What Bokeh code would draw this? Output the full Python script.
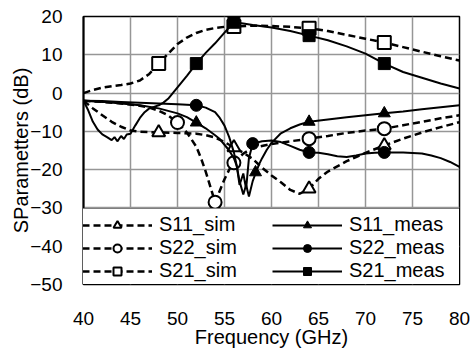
from bokeh.plotting import figure
from bokeh.models import Range1d, Legend, LegendItem, FixedTicker
from bokeh.embed import file_html
from bokeh.resources import INLINE

# ---------------- data ----------------
x_ticks = [40, 45, 50, 55, 60, 65, 70, 75, 80]
y_ticks = [-50, -40, -30, -20, -10, 0, 10, 20]
x_title = "Frequency (GHz)"
y_title = "SParametters (dB)"

s21_sim_f = [40, 41, 42, 43, 44, 45, 46, 47, 48, 49, 50, 51, 52, 53, 54, 55, 56, 58, 60,
             62, 64, 66, 68, 70, 72, 74, 76, 78, 80]
s21_sim_db = [0, 0.8, 1.4, 1.8, 2.1, 2.5, 3.3, 5.0, 7.7, 10.3, 12.8, 14.5, 15.7, 16.5, 17.0,
              17.3, 17.4, 17.6, 17.5, 17.3, 16.9, 16.2, 15.2, 14.2, 13.2, 12.0, 10.8, 9.6, 8.5]
s21_sim_mf = [48, 56, 64, 72]
s21_sim_mdb = [7.7, 17.4, 16.9, 13.2]

s21_meas_f = [40, 40.5, 41, 41.5, 42, 42.5, 43, 43.3, 43.6, 44, 44.3, 44.6, 45, 45.5, 46,
              46.5, 47, 47.5, 48, 48.5, 49, 49.5, 50, 51, 52, 53, 54, 55, 56, 57, 58, 60,
              62, 64, 66, 68, 70, 72, 74, 76, 78, 80]
s21_meas_db = [-2, -4.5, -7.5, -9.5, -10.8, -11.5, -12.3, -11.5, -12.6, -11.2, -12, -10.8,
               -10.6, -8.5, -6.5, -5, -4, -3.6, -3.2, -2.5, -1.5, 0, 1.5, 4.5, 7.7, 10.5,
               13, 15.8, 18.5, 18.2, 17.8, 17.1, 16.2, 15.0, 13.8, 12.2, 10.3, 7.7, 5.5,
               4.0, 2.5, 1.2]
s21_meas_mf = [52, 56, 64, 72]
s21_meas_mdb = [7.7, 18.5, 15.0, 7.7]

s11_sim_f = [40, 41, 42, 43, 44, 45, 46, 48, 50, 52, 53, 54, 55, 56, 57, 58, 59, 60, 61,
             62, 63, 64, 65, 66, 68, 70, 72, 74, 76, 78, 80]
s11_sim_db = [-2, -4, -5.8, -7.5, -8.8, -9.8, -10.1, -10.3, -10.4, -10.6, -11, -11.6,
              -12.8, -14.2, -15.6, -17.2, -19.5, -21.5, -23.3, -25.3, -26.3, -25.0, -22.4,
              -20.5, -17.8, -15.6, -13.7, -11.9, -10.3, -8.9, -7.6]
s11_sim_mf = [48, 56, 64, 72]
s11_sim_mdb = [-10.3, -14.2, -25.0, -13.7]

s22_sim_f = [40, 42, 44, 46, 47, 48, 49, 50, 51, 52, 52.5, 53, 53.5, 54, 54.5, 55, 55.5,
             56, 57, 58, 60, 62, 64, 66, 68, 70, 72, 74, 76, 78, 80]
s22_sim_db = [-2, -2.3, -2.7, -3.3, -3.8, -4.6, -5.8, -7.7, -10.3, -14, -17, -20.5, -24.5,
              -28.5, -25.5, -22.5, -20, -18.2, -15.8, -14.3, -13.3, -12.6, -11.9, -11.2,
              -10.4, -9.8, -9.3, -8.4, -7.5, -6.6, -5.8]
s22_sim_mf = [50, 54, 56, 64, 72]
s22_sim_mdb = [-7.7, -28.5, -18.2, -11.9, -9.3]

s11_meas_f = [40, 42, 44, 46, 48, 50, 51, 52, 53, 54, 54.5, 55, 55.5, 56, 56.3, 56.6, 57,
              57.3, 57.6, 58, 58.3, 58.7, 59, 59.5, 60, 61, 62, 63, 64, 66, 68, 70, 72, 74,
              76, 78, 80]
s11_meas_db = [-2, -2.3, -2.7, -3.2, -4.0, -5.3, -6.3, -7.7, -9.2, -11, -12, -13.5, -15,
               -17, -19, -23, -26.5, -24, -27, -23, -21, -18.5, -17, -14.8, -13, -10.5,
               -9.2, -8.2, -7.5, -6.9, -6.3, -5.8, -5.3, -4.8, -4.2, -3.7, -3.2]
s11_meas_mf = [52, 58.3, 64, 72]
s11_meas_mdb = [-7.7, -20.7, -7.5, -5.3]

s22_meas_f = [40, 42, 44, 46, 48, 50, 52, 53, 54, 54.5, 55, 55.5, 56, 56.3, 56.6, 57, 57.3,
              57.6, 58, 59, 60, 61, 62, 63, 64, 65, 66, 67, 68, 69, 70, 71, 72, 74, 76, 77,
              78, 79, 80]
s22_meas_db = [-2, -2.1, -2.3, -2.5, -2.7, -2.9, -3.2, -3.8, -5, -6.5, -8.5, -11.5, -15.5,
               -19, -24, -21, -25, -17, -13.2, -12.6, -12.4, -12.8, -13.8, -14.8, -15.5,
               -15.6, -16, -16.5, -16.7, -16.3, -15.8, -15.6, -15.5, -15.5, -15.8, -16.3,
               -17, -18, -19.3]
s22_meas_mf = [52, 58, 64, 72]
s22_meas_mdb = [-3.2, -13.2, -15.5, -15.5]

# ---------------- figure ----------------
FONT = "Liberation Sans"
p = figure(frame_width=376, frame_height=268, output_backend="svg", toolbar_location=None,
           x_range=Range1d(40, 80), y_range=Range1d(-50, 20),
           min_border_left=83, min_border_right=11, min_border_top=16, min_border_bottom=67)
p.background_fill_color = "white"
p.border_fill_color = "white"
p.outline_line_color = "black"
p.outline_line_width = 1.5

p.xaxis.ticker = FixedTicker(ticks=x_ticks)
p.yaxis.ticker = FixedTicker(ticks=y_ticks)
p.xgrid.ticker = FixedTicker(ticks=x_ticks)
p.ygrid.ticker = FixedTicker(ticks=y_ticks)
for g in (p.xgrid, p.ygrid):
    g.grid_line_color = "#969696"
    g.grid_line_width = 1.5

for ax in (p.xaxis, p.yaxis):
    ax.major_tick_line_color = None
    ax.minor_tick_line_color = None
    ax.major_tick_out = 0
    ax.major_tick_in = 0
    ax.minor_tick_out = 0
    ax.minor_tick_in = 0
    ax.major_label_text_font = FONT
    ax.major_label_text_font_size = "19px"
    ax.major_label_text_color = "black"
    ax.axis_label_text_font = FONT
    ax.axis_label_text_font_size = "20px"
    ax.axis_label_text_font_style = "normal"
    ax.axis_label_text_color = "black"

p.xaxis.axis_line_color = None
p.xaxis.major_label_standoff = 27
p.xaxis.axis_label = x_title
p.xaxis.axis_label_standoff = -2

p.yaxis.axis_line_color = "black"
p.yaxis.axis_line_width = 2
p.yaxis.major_label_standoff = 21
p.yaxis.axis_label = y_title
p.yaxis.axis_label_standoff = -5

DASH = "7 4"


def series(f, db, mf, mdb, marker, sim):
    if sim:
        ln = p.line(f, db, line_color="black", line_width=2.5, line_dash=DASH)
        sc = p.scatter(mf, mdb, marker=marker, size=13, fill_color="white",
                       line_color="black", line_width=2)
    else:
        ln = p.line(f, db, line_color="black", line_width=2)
        sc = p.scatter(mf, mdb, marker=marker, size=12, fill_color="black",
                       line_color="black", line_width=1)
    return [ln, sc]


r_s21_sim = series(s21_sim_f, s21_sim_db, s21_sim_mf, s21_sim_mdb, "square", True)
r_s11_sim = series(s11_sim_f, s11_sim_db, s11_sim_mf, s11_sim_mdb, "triangle", True)
r_s22_sim = series(s22_sim_f, s22_sim_db, s22_sim_mf, s22_sim_mdb, "circle", True)
r_s21_meas = series(s21_meas_f, s21_meas_db, s21_meas_mf, s21_meas_mdb, "square", False)
r_s11_meas = series(s11_meas_f, s11_meas_db, s11_meas_mf, s11_meas_mdb, "triangle", False)
r_s22_meas = series(s22_meas_f, s22_meas_db, s22_meas_mf, s22_meas_mdb, "circle", False)

legend = Legend(items=[
    LegendItem(label="S11_sim", renderers=r_s11_sim),
    LegendItem(label="S22_sim", renderers=r_s22_sim),
    LegendItem(label="S21_sim", renderers=r_s21_sim),
    LegendItem(label="S11_meas", renderers=r_s11_meas),
    LegendItem(label="S22_meas", renderers=r_s22_meas),
    LegendItem(label="S21_meas", renderers=r_s21_meas),
], location=(-6, -3), nrows=3)
legend.label_text_font = FONT
legend.label_text_font_size = "20px"
legend.label_text_color = "black"
legend.label_text_line_height = 1.0
legend.glyph_width = 70
legend.glyph_height = 20
legend.label_height = 20
legend.label_width = 113
legend.label_standoff = 7
legend.spacing = 0
legend.padding = 4
legend.margin = 0
legend.border_line_color = "black"
legend.border_line_width = 1.5
legend.background_fill_color = "white"
legend.background_fill_alpha = 1
p.add_layout(legend, "center")

open("out.html", "w").write(file_html(p, INLINE))
